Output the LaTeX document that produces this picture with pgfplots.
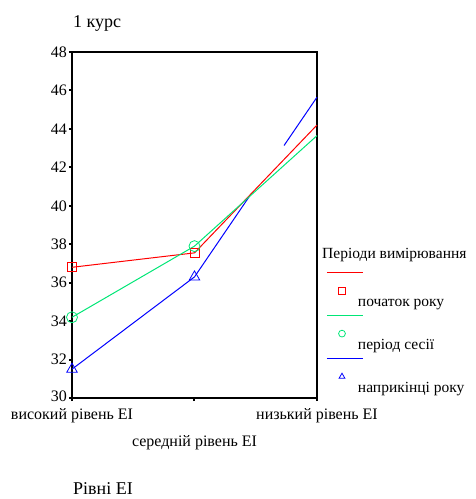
\documentclass[border=0pt]{standalone}
\usepackage{fontspec}
\setmainfont{Liberation Serif}
\usepackage{pgfplots}
\pgfplotsset{compat=1.18}
\usetikzlibrary{calc}
\definecolor{sred}{RGB}{255,0,0}
\definecolor{sgreen}{RGB}{0,230,118}
\definecolor{sblue}{RGB}{0,0,255}
\begin{document}
\begin{tikzpicture}
\begin{axis}[
  scale only axis, width=245pt, height=346pt,
  xmin=0, xmax=2, ymin=30, ymax=48,
  xtick={0,1,2},
  xticklabels={високий рівень ЕІ, {\strut\\[6pt]середній рівень ЕІ}, низький рівень ЕІ},
  ytick={30,32,...,48},
  yticklabels={\raisebox{3pt}{30},32,34,36,38,40,42,44,46,48},
  tick align=outside, major tick length=3pt,
  xtick pos=bottom, ytick pos=left,
  tick style={black, line width=2pt},
  axis line style={line width=1.5pt},
  /pgf/number format/assume math mode=true,
  tick label style={font=\fontsize{16}{19}\selectfont},
  xticklabel style={align=center, inner sep=2pt, yshift=-5pt},
  yticklabel style={inner sep=2pt},
  clip=false,
  legend style={draw=none, fill=none, inner sep=0pt, outer sep=0pt,
    at={(axis description cs:1,0.366)}, anchor=north west, xshift=10pt,
    cells={anchor=base west}, nodes={inner sep=0pt, font=\fontsize{15.5}{18}\selectfont},
    row sep=6.75pt, column sep=0pt},
  legend image code/.code={
    \draw[#1, overlay] (0pt,34pt) -- (36pt,34pt);
    \draw[#1, mark size=3.4pt] plot[only marks] coordinates {(15pt,15.5pt)};
    \path[draw=none, fill=none] (0pt,0pt) rectangle (31pt,34.75pt);
  },
]
\addplot[sblue, line width=1pt, dash pattern=on 97pt off 62pt on 120pt, forget plot]
  coordinates {(1,36.3) (2,45.65)};
\addplot[sred, line width=1pt, mark=square, mark size=4.5pt, mark indices={1,2}, mark options={solid, draw=sred, fill=white, line width=0.8pt}]
  coordinates {(0,36.8) (1,37.55) (2,44.2)};
\addlegendentry{початок року}
\addplot[sgreen, line width=1pt, mark=o, mark size=5.5pt, mark indices={1,2}, mark options={solid, draw=sgreen, fill=none, line width=0.8pt}]
  coordinates {(0,34.2) (1,37.9) (2,43.65)};
\addlegendentry{період сесії}
\addplot[sblue, line width=1pt, mark=triangle, mark size=6pt, mark options={solid, draw=sblue, fill=none, line width=0.8pt}]
  coordinates {(0,31.5) (1,36.3)};
\addlegendentry{наприкінці року}
\node[anchor=base west, inner sep=0pt, font=\fontsize{18}{21}\selectfont] at ($(axis description cs:0,1)+(1pt,24.5pt)$) {1 курс};
\node[anchor=base west, inner sep=0pt, font=\fontsize{15.5}{18}\selectfont] at ($(axis description cs:1,0.402)+(5pt,0pt)$) {Періоди вимірювання};
\node[anchor=base west, inner sep=0pt, font=\fontsize{18}{21}\selectfont] at ($(axis description cs:0,0)+(1pt,-96pt)$) {Рівні ЕІ};
\end{axis}
\path[use as bounding box] ($(current axis.south west)+(-72pt,-101pt)$) rectangle ++(475pt,499pt);
\end{tikzpicture}
\end{document}
